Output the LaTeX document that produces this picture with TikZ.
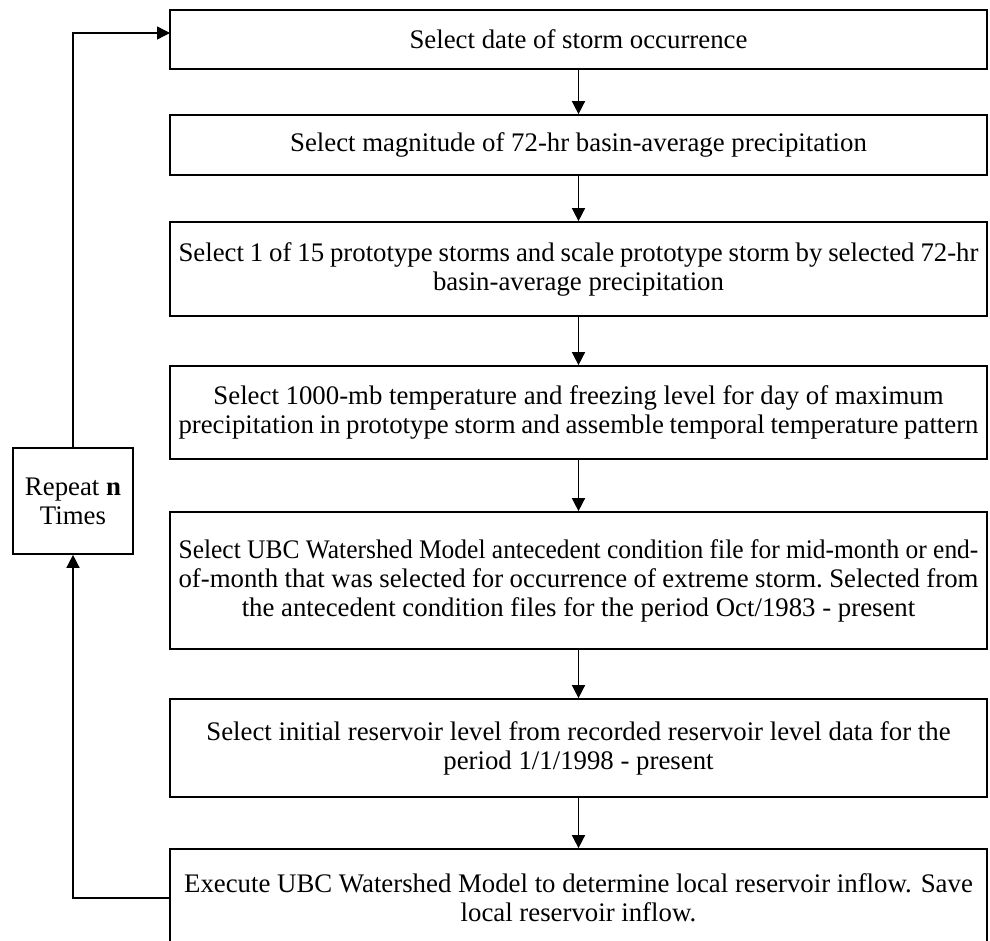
\documentclass[tikz,border=0pt]{standalone}
\usepackage{fontspec}
\usepackage{graphicx}
\setmainfont{Liberation Serif}
\usetikzlibrary{arrows.meta}
\newcommand{\jline}[1]{\makebox[800pt][s]{\spaceskip=0.08em plus 1em\relax\xspaceskip=0.08em plus 1em\relax #1}}
\newcommand{\narrowline}[1]{\scalebox{0.95}[1]{#1}}
\begin{document}
\begin{tikzpicture}[x=1pt,y=-1pt,
  flowbox/.style={draw, line width=1.7pt, minimum width=817pt, align=center,
    font=\fontsize{26.8}{29}\selectfont, inner sep=0pt},
  repbox/.style={draw, line width=1.7pt, minimum width=120pt, minimum height=106pt,
    align=center, font=\fontsize{26.8}{29}\selectfont, inner sep=0pt},
  flowarrow/.style={-{Triangle[length=13pt,width=13pt]}, line width=1.5pt}]
\useasboundingbox (0,0) rectangle (990,941);
\node[flowbox, minimum height=59pt] (b1) at (578.5,39.5) {Select date of storm occurrence};
\node[flowbox, minimum height=60pt] (b2) at (578.5,145) {Select magnitude of 72-hr basin-average precipitation};
\node[flowbox, minimum height=94pt] (b3) at (578.5,269) {\jline{Select 1 of 15 prototype storms and scale prototype storm by selected 72-hr}\\basin-average precipitation};
\node[flowbox, minimum height=93pt] (b4) at (578.5,412.5) {Select 1000-mb temperature and freezing level for day of maximum\\\jline{precipitation in prototype storm and assemble temporal temperature pattern}};
\node[flowbox, minimum height=137pt] (b5) at (578.5,580.5) {\narrowline{Select UBC Watershed Model antecedent condition file for mid-month or end-}\\\jline{of-month that was selected for occurrence of extreme storm. Selected from}\\the antecedent condition files for the period Oct/1983 - present};
\node[flowbox, minimum height=98pt] (b6) at (578.5,748) {Select initial reservoir level from recorded reservoir level data for the\\period 1/1/1998 - present};
\node[flowbox, minimum height=98pt] (b7) at (578.5,898) {Execute UBC Watershed Model to determine local reservoir inflow. Save\\local reservoir inflow.};
\node[repbox] (rep) at (73,501) {Repeat \textbf{n}\\Times};
\coordinate (top) at (170,33);
\draw[flowarrow] (b1.south) -- (b2.north);
\draw[flowarrow] (b2.south) -- (b3.north);
\draw[flowarrow] (b3.south) -- (b4.north);
\draw[flowarrow] (b4.south) -- (b5.north);
\draw[flowarrow] (b5.south) -- (b6.north);
\draw[flowarrow] (b6.south) -- (b7.north);
\draw[flowarrow] (b7.west) -| (rep.south);
\draw[flowarrow] (rep.north) |- (top);
\end{tikzpicture}
\end{document}
